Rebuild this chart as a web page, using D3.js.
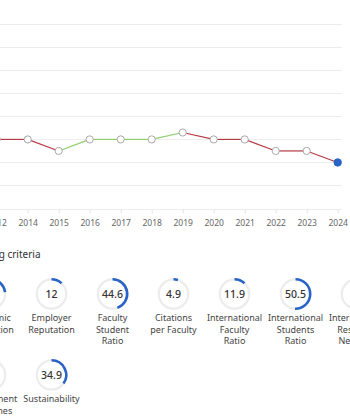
<!DOCTYPE html>
<html>
<head>
<meta charset="utf-8">
<style>
    body { margin: 0; background: #fff; }
    text { font-family: "Noto Sans", sans-serif; }
</style>
</head>
<body>
<svg id="chart" width="350" height="420"></svg>
<script src="https://cdn.jsdelivr.net/npm/d3@7"></script>
<script>
    // ranking history
    const years = ["2012", "2014", "2015", "2016", "2017", "2018", "2019", "2020", "2021", "2022", "2023", "2024"]
    const scores = [30, 30, 25, 30, 30, 30, 33, 30, 30, 25, 25, 20]
    const yTicks = [0, 10, 20, 30, 40, 50, 60, 70, 80]

    // criteria donuts
    const criteriaLines = [
        ["Academic", "Reputation"],
        ["Employer", "Reputation"],
        ["Faculty", "Student", "Ratio"],
        ["Citations", "per Faculty"],
        ["International", "Faculty", "Ratio"],
        ["International", "Students", "Ratio"],
        ["International", "Research", "Network"],
        ["Employment", "Outcomes"],
        ["Sustainability"]
    ]
    const criteriaScores = [23, 12, 44.6, 4.9, 11.9, 50.5, 40, 8, 34.9]

    const svg = d3.select("#chart")

    // ---- line chart ----
    const x = d3.scalePoint().domain(years).range([-3.3, 337.7])
    const y = d3.scaleLinear().domain([0, 80]).range([208.5, 24.3])

    const grid = svg.append("g")
    grid.selectAll("line")
        .data(yTicks)
        .enter()
        .append("line")
        .attr("x1", 0)
        .attr("x2", 342)
        .attr("y1", d => Math.round(y(d)) + 0.5)
        .attr("y2", d => Math.round(y(d)) + 0.5)
        .attr("stroke", "#ededed")

    const xAxis = svg.append("g")
        .attr("transform", "translate(0," + (Math.round(y(0)) + 0.5) + ")")
        .call(d3.axisBottom(x).tickSize(4).tickPadding(6))
    xAxis.select(".domain").remove()
    xAxis.selectAll(".tick line").attr("stroke", "#e2e2e2")
    xAxis.selectAll(".tick text")
        .attr("fill", "#666")
        .style("font-size", "8.5px")
        .style("font-family", "Noto Sans, sans-serif")

    // segments: green when improving, red when dropping, flat keeps previous colour
    let prev = "#b53a44"
    const segs = d3.pairs(d3.range(years.length)).map(([a, b]) => {
        if (scores[b] > scores[a]) prev = "#8ccf6c"
        else if (scores[b] < scores[a]) prev = "#b53a44"
        return { a: a, b: b, color: prev }
    })
    svg.append("g").selectAll("line")
        .data(segs)
        .enter()
        .append("line")
        .attr("x1", d => x(years[d.a]))
        .attr("y1", d => y(scores[d.a]))
        .attr("x2", d => x(years[d.b]))
        .attr("y2", d => y(scores[d.b]))
        .attr("stroke", d => d.color)
        .attr("stroke-width", 1.2)

    svg.append("g").selectAll("circle")
        .data(years)
        .enter()
        .append("circle")
        .attr("cx", d => x(d))
        .attr("cy", (d, i) => y(scores[i]))
        .attr("r", (d, i) => i === years.length - 1 ? 3.7 : 3.6)
        .attr("fill", (d, i) => i === years.length - 1 ? "#2a63c6" : "#fff")
        .attr("stroke", (d, i) => i === years.length - 1 ? "#2a63c6" : "#a8a8a8")
        .attr("stroke-width", 1)

    // ---- criteria ----
    svg.append("text")
        .attr("x", 40.5)
        .attr("y", 257.5)
        .attr("text-anchor", "end")
        .attr("fill", "#333")
        .style("font-size", "10px")
        .text("Ranking criteria")

    const col = d3.scaleLinear().domain([0, 6]).range([-9.5, 356.5])
    const rowY = d3.scaleLinear().domain([0, 1]).range([294, 375])

    const ring = d3.arc().innerRadius(13.6).outerRadius(15.8).startAngle(0).endAngle(2 * Math.PI)
    const arc = d3.arc().innerRadius(13.4).outerRadius(16).startAngle(0)

    const items = svg.append("g").selectAll("g")
        .data(criteriaScores)
        .enter()
        .append("g")
        .attr("transform", (d, i) => "translate(" + col(i % 7) + "," + rowY(Math.floor(i / 7)) + ")")

    items.append("path")
        .attr("d", ring())
        .attr("fill", "#ececec")
    items.append("path")
        .attr("d", d => arc({ endAngle: 2 * Math.PI * d / 100 }))
        .attr("fill", "#2a63c6")
    items.append("text")
        .attr("y", 3.7)
        .attr("text-anchor", "middle")
        .attr("fill", "#333")
        .style("font-size", "10.5px")
        .style("font-weight", 500)
        .text(d => d)

    items.each(function (d, i) {
        d3.select(this).append("text")
            .attr("text-anchor", "middle")
            .attr("fill", "#444")
            .style("font-size", "9px")
            .selectAll("tspan")
            .data(criteriaLines[i])
            .enter()
            .append("tspan")
            .attr("x", 0)
            .attr("y", (t, j) => 27 + j * 11.7)
            .text(t => t)
    })
</script>
</body>
</html>
